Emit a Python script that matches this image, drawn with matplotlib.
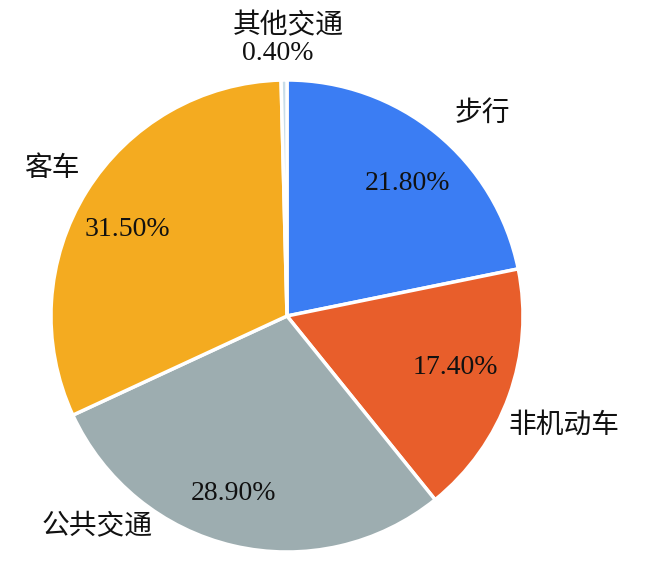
import matplotlib
matplotlib.use("Agg")
import matplotlib.pyplot as plt

categories = ["步行", "非机动车", "公共交通", "客车", "其他交通"]
values = [21.8, 17.4, 28.9, 31.5, 0.4]
colors = ["#3b7df3", "#e85e2b", "#9dadb0", "#f4ab20", "#c9dde8"]

W, H = 648, 583
fig = plt.figure(figsize=(W / 100, H / 100), dpi=100)
ax = fig.add_axes([0, 0, 1, 1])

cx, cy, r = 287, H - 316, 236
wedges, texts, autotexts = ax.pie(
    values, colors=colors, startangle=90, counterclock=False,
    center=(cx, cy), radius=r, autopct="%.2f%%", pctdistance=0.77,
    wedgeprops=dict(edgecolor="white", linewidth=2.5),
    textprops=dict(fontsize=20, family="Liberation Serif", color="#111111"),
    frame=True,
)
ax.set_xlim(0, W)
ax.set_ylim(0, H)
ax.set_aspect("equal")
ax.axis("off")

# layout of percentage labels (pixel positions, top-left origin)
pct_pos = [(407, 183), (455, 367), (234, 493), (127, 230), (278, 53)]
for t, (x, y) in zip(autotexts, pct_pos):
    t.set_position((x, H - y))
    t.set_ha("center")
    t.set_va("center")

label_pos = [(482, 113), (564, 425), (97, 526), (52, 168), (288, 25)]
for name, (x, y) in zip(categories, label_pos):
    ax.text(x, H - y, name, ha="center", va="center", fontsize=20,
            family=["Noto Sans CJK SC", "DejaVu Sans"], fontweight="light",
            color="#111111")

fig.savefig("out.png", dpi=100)
